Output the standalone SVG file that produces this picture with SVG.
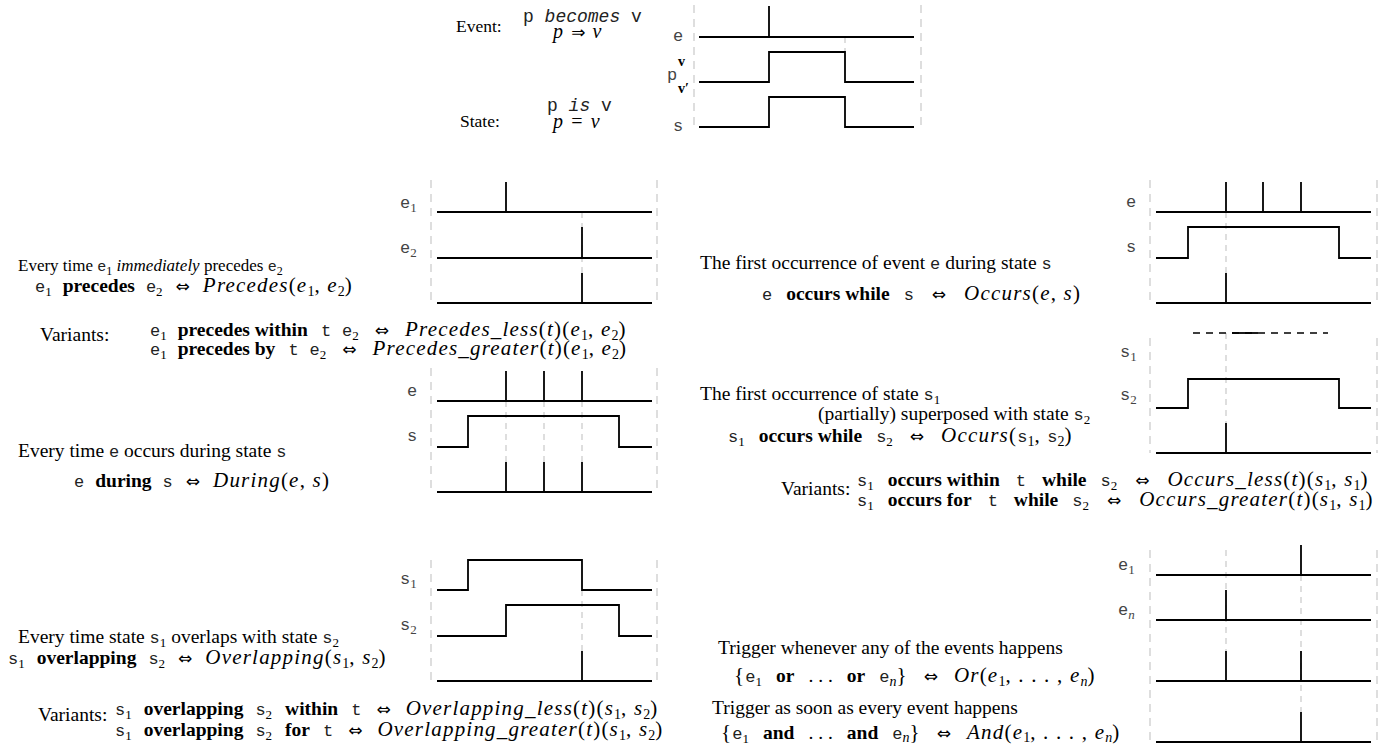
<svg xmlns="http://www.w3.org/2000/svg" width="1390" height="745" viewBox="0 0 1390 745">
<style>
.t{font-family:"Liberation Serif","Times New Roman",serif;font-size:19.5px;fill:#000}
.t17{font-family:"Liberation Serif","Times New Roman",serif;font-size:17.5px;fill:#000}
.tt{font-family:"Liberation Mono","Courier New",monospace;font-size:17px;fill:#222}
.b{font-weight:bold}
.i{font-style:italic}
.s{font-size:13px}
.m{font-family:"Liberation Serif","Times New Roman",serif;font-style:italic;font-size:21px;letter-spacing:1.2px}
.mu{font-family:"Liberation Serif","Times New Roman",serif;font-size:21px;letter-spacing:1.2px}
.ms{font-family:"Liberation Serif",serif;font-size:14px;font-style:normal}
.msi{font-family:"Liberation Serif",serif;font-size:14px;font-style:italic}
.ar{font-family:"DejaVu Sans",sans-serif;font-size:17px}
.lbl{font-family:"Liberation Mono","Courier New",monospace;font-size:17px;fill:#444}
.ls{font-family:"Liberation Serif",serif;font-size:13px}
.sig{fill:none;stroke:#000;stroke-width:1.8}
.bd{stroke:#c8c8c8;stroke-width:1.2;stroke-dasharray:8 6;fill:none}
.gd{stroke:#c8c8c8;stroke-width:1.2;stroke-dasharray:6 5;fill:none}
.bk{stroke:#000;stroke-width:1.3;stroke-dasharray:7 6;fill:none}
</style>
<rect width="1390" height="745" fill="#fff"/>
<g id="connectors"/>

<g id="definitions-text">
<text class="t17" x="456" y="32">Event:</text>
<text class="tt" style="font-size:18px" x="523" y="22">p <tspan class="i">becomes</tspan> v</text>
<text class="t" x="553" y="38"><tspan class="m" style="font-size:20px">p</tspan><tspan class="ar" dx="7">⇒</tspan><tspan class="m" style="font-size:20px" dx="7">v</tspan></text>
<text class="t17" x="460" y="127">State:</text>
<text class="tt" style="font-size:18px" x="547" y="111">p <tspan class="i">is</tspan> v</text>
<text class="t" x="553" y="128"><tspan class="m" style="font-size:20px">p</tspan><tspan class="mu" style="font-size:20px" dx="7">=</tspan><tspan class="m" style="font-size:20px" dx="7">v</tspan></text>
</g>
<g id="basic-panel">
<line class="bd" x1="694" y1="5" x2="694" y2="127"/>
<line class="bd" x1="921" y1="5" x2="921" y2="127"/>
<line class="gd" x1="845" y1="37" x2="845" y2="52"/>
<line class="sig" x1="699" y1="37" x2="914" y2="37"/>
<line class="sig" x1="769" y1="6" x2="769" y2="37"/>
<polyline class="sig" points="699,82 769,82 769,52 845,52 845,82 914,82"/>
<polyline class="sig" points="699,127 769,127 769,97 845,97 845,127 914,127"/>
<text class="lbl" x="673" y="41">e</text>
<text class="lbl" x="667" y="80">p</text>
<text class="t b" x="678" y="66" style="font-size:14px">v</text>
<text class="t b" x="678" y="93" style="font-size:14px">v′</text>
<text class="lbl" x="673" y="131">s</text>
</g>

<g id="precedes-text">
<text class="t" style="font-size:17px" x="18" y="271">Every time <tspan class="tt" style="font-size:15px">e</tspan><tspan class="s" style="font-size:12px" baseline-shift="-3.5">1</tspan> <tspan class="i">immediately</tspan> precedes <tspan class="tt" style="font-size:15px">e</tspan><tspan class="s" style="font-size:12px" baseline-shift="-3.5">2</tspan></text>
<text class="t" x="35" y="292"><tspan class="tt">e</tspan><tspan class="s" baseline-shift="-4">1</tspan><tspan class="b" dx="11">precedes</tspan><tspan class="tt" dx="11">e</tspan><tspan class="s" baseline-shift="-4">2</tspan><tspan class="ar" dx="13">⇔</tspan><tspan class="m" dx="13">Precedes</tspan><tspan class="mu">(</tspan><tspan class="m">e</tspan><tspan class="ms" baseline-shift="-4">1</tspan><tspan class="mu">, </tspan><tspan class="m">e</tspan><tspan class="ms" baseline-shift="-4">2</tspan><tspan class="mu">)</tspan></text>
<text class="t" x="40" y="341">Variants:</text>
<text class="t" x="150" y="336"><tspan class="tt">e</tspan><tspan class="s" baseline-shift="-4">1</tspan><tspan class="b" dx="11">precedes within</tspan><tspan class="tt" dx="13">t</tspan><tspan class="tt" dx="11">e</tspan><tspan class="s" baseline-shift="-4">2</tspan><tspan class="ar" dx="16">⇔</tspan><tspan class="m" dx="16">Precedes_less</tspan><tspan class="mu">(</tspan><tspan class="m">t</tspan><tspan class="mu">)(</tspan><tspan class="m">e</tspan><tspan class="ms" baseline-shift="-4">1</tspan><tspan class="mu">, </tspan><tspan class="m">e</tspan><tspan class="ms" baseline-shift="-4">2</tspan><tspan class="mu">)</tspan></text>
<text class="t" x="150" y="355"><tspan class="tt">e</tspan><tspan class="s" baseline-shift="-4">1</tspan><tspan class="b" dx="11">precedes by</tspan><tspan class="tt" dx="13">t</tspan><tspan class="tt" dx="11">e</tspan><tspan class="s" baseline-shift="-4">2</tspan><tspan class="ar" dx="16">⇔</tspan><tspan class="m" dx="16">Precedes_greater</tspan><tspan class="mu">(</tspan><tspan class="m">t</tspan><tspan class="mu">)(</tspan><tspan class="m">e</tspan><tspan class="ms" baseline-shift="-4">1</tspan><tspan class="mu">, </tspan><tspan class="m">e</tspan><tspan class="ms" baseline-shift="-4">2</tspan><tspan class="mu">)</tspan></text>
</g>
<g id="precedes-panel">
<line class="bd" x1="431" y1="180" x2="431" y2="303"/>
<line class="bd" x1="657" y1="180" x2="657" y2="303"/>
<line class="gd" x1="582" y1="212" x2="582" y2="273"/>
<line class="sig" x1="437" y1="212" x2="652" y2="212"/>
<line class="sig" x1="506" y1="182" x2="506" y2="212"/>
<line class="sig" x1="437" y1="258" x2="652" y2="258"/>
<line class="sig" x1="582" y1="227" x2="582" y2="258"/>
<line class="sig" x1="437" y1="303" x2="652" y2="303"/>
<line class="sig" x1="582" y1="273" x2="582" y2="303"/>
<text class="lbl" x="400" y="208">e<tspan class="ls" baseline-shift="-4">1</tspan></text>
<text class="lbl" x="400" y="253">e<tspan class="ls" baseline-shift="-4">2</tspan></text>
</g>

<g id="during-text">
<text class="t" x="18" y="457">Every time <tspan class="tt">e</tspan> occurs during state <tspan class="tt">s</tspan></text>
<text class="t" x="74" y="487"><tspan class="tt">e</tspan><tspan class="b" dx="11">during</tspan><tspan class="tt" dx="11">s</tspan><tspan class="ar" dx="13">⇔</tspan><tspan class="m" dx="13">During</tspan><tspan class="mu">(</tspan><tspan class="m">e</tspan><tspan class="mu">, </tspan><tspan class="m">s</tspan><tspan class="mu">)</tspan></text>
</g>
<g id="during-panel">
<line class="bd" x1="431" y1="368" x2="431" y2="492"/>
<line class="bd" x1="657" y1="368" x2="657" y2="492"/>
<line class="gd" x1="506" y1="401" x2="506" y2="462"/>
<line class="gd" x1="544" y1="401" x2="544" y2="462"/>
<line class="gd" x1="582" y1="401" x2="582" y2="462"/>
<line class="sig" x1="437" y1="401" x2="652" y2="401"/>
<line class="sig" x1="506" y1="371" x2="506" y2="401"/>
<line class="sig" x1="544" y1="371" x2="544" y2="401"/>
<line class="sig" x1="582" y1="371" x2="582" y2="401"/>
<polyline class="sig" points="437,447 468,447 468,416 619,416 619,447 652,447"/>
<line class="sig" x1="437" y1="492" x2="652" y2="492"/>
<line class="sig" x1="506" y1="462" x2="506" y2="492"/>
<line class="sig" x1="544" y1="462" x2="544" y2="492"/>
<line class="sig" x1="582" y1="462" x2="582" y2="492"/>
<text class="lbl" x="407" y="396">e</text>
<text class="lbl" x="407" y="441">s</text>
</g>

<g id="overlapping-text">
<text class="t" x="18" y="643">Every time state <tspan class="tt">s</tspan><tspan class="s" baseline-shift="-4">1</tspan> overlaps with state <tspan class="tt">s</tspan><tspan class="s" baseline-shift="-4">2</tspan></text>
<text class="t" x="8" y="664"><tspan class="tt">s</tspan><tspan class="s" baseline-shift="-4">1</tspan><tspan class="b" dx="12">overlapping</tspan><tspan class="tt" dx="12">s</tspan><tspan class="s" baseline-shift="-4">2</tspan><tspan class="ar" dx="13">⇔</tspan><tspan class="m" dx="13">Overlapping</tspan><tspan class="mu">(</tspan><tspan class="m">s</tspan><tspan class="ms" baseline-shift="-4">1</tspan><tspan class="mu">, </tspan><tspan class="m">s</tspan><tspan class="ms" baseline-shift="-4">2</tspan><tspan class="mu">)</tspan></text>
<text class="t" x="38" y="721">Variants:</text>
<text class="t" x="115" y="715"><tspan class="tt">s</tspan><tspan class="s" baseline-shift="-4">1</tspan><tspan class="b" dx="12">overlapping</tspan><tspan class="tt" dx="12">s</tspan><tspan class="s" baseline-shift="-4">2</tspan><tspan class="b" dx="13">within</tspan><tspan class="tt" dx="13">t</tspan><tspan class="ar" dx="15">⇔</tspan><tspan class="m" dx="15">Overlapping_less</tspan><tspan class="mu">(</tspan><tspan class="m">t</tspan><tspan class="mu">)(</tspan><tspan class="m">s</tspan><tspan class="ms" baseline-shift="-4">1</tspan><tspan class="mu">, </tspan><tspan class="m">s</tspan><tspan class="ms" baseline-shift="-4">2</tspan><tspan class="mu">)</tspan></text>
<text class="t" x="115" y="736"><tspan class="tt">s</tspan><tspan class="s" baseline-shift="-4">1</tspan><tspan class="b" dx="12">overlapping</tspan><tspan class="tt" dx="12">s</tspan><tspan class="s" baseline-shift="-4">2</tspan><tspan class="b" dx="13">for</tspan><tspan class="tt" dx="13">t</tspan><tspan class="ar" dx="15">⇔</tspan><tspan class="m" dx="15">Overlapping_greater</tspan><tspan class="mu">(</tspan><tspan class="m">t</tspan><tspan class="mu">)(</tspan><tspan class="m">s</tspan><tspan class="ms" baseline-shift="-4">1</tspan><tspan class="mu">, </tspan><tspan class="m">s</tspan><tspan class="ms" baseline-shift="-4">2</tspan><tspan class="mu">)</tspan></text>
</g>
<g id="overlapping-panel">
<line class="bd" x1="431" y1="560" x2="431" y2="683"/>
<line class="bd" x1="657" y1="560" x2="657" y2="683"/>
<line class="gd" x1="582" y1="590" x2="582" y2="651"/>
<polyline class="sig" points="437,590 468,590 468,560 582,560 582,590 652,590"/>
<polyline class="sig" points="437,636 506,636 506,605 619,605 619,636 652,636"/>
<line class="sig" x1="437" y1="681" x2="652" y2="681"/>
<line class="sig" x1="582" y1="651" x2="582" y2="681"/>
<text class="lbl" x="400" y="584">s<tspan class="ls" baseline-shift="-4">1</tspan></text>
<text class="lbl" x="400" y="630">s<tspan class="ls" baseline-shift="-4">2</tspan></text>
</g>

<g id="occurs-event-text">
<text class="t" x="700" y="269">The first occurrence of event <tspan class="tt">e</tspan> during state <tspan class="tt">s</tspan></text>
<text class="t" x="762" y="300"><tspan class="tt">e</tspan><tspan class="b" dx="14">occurs while</tspan><tspan class="tt" dx="14">s</tspan><tspan class="ar" dx="18">⇔</tspan><tspan class="m" dx="18">Occurs</tspan><tspan class="mu">(</tspan><tspan class="m">e</tspan><tspan class="mu">, </tspan><tspan class="m">s</tspan><tspan class="mu">)</tspan></text>
</g>
<g id="occurs-event-panel">
<line class="bd" x1="1150" y1="180" x2="1150" y2="303"/>
<line class="bd" x1="1377" y1="180" x2="1377" y2="303"/>
<line class="gd" x1="1226" y1="212" x2="1226" y2="273"/>
<line class="sig" x1="1156" y1="212" x2="1371" y2="212"/>
<line class="sig" x1="1226" y1="182" x2="1226" y2="212"/>
<line class="sig" x1="1263" y1="182" x2="1263" y2="212"/>
<line class="sig" x1="1301" y1="182" x2="1301" y2="212"/>
<polyline class="sig" points="1156,258 1188,258 1188,227 1339,227 1339,258 1371,258"/>
<line class="sig" x1="1156" y1="303" x2="1371" y2="303"/>
<line class="sig" x1="1226" y1="273" x2="1226" y2="303"/>
<text class="lbl" x="1126" y="207">e</text>
<text class="lbl" x="1126" y="252">s</text>
</g>

<g id="occurs-state-text">
<text class="t" x="700" y="400">The first occurrence of state <tspan class="tt">s</tspan><tspan class="s" baseline-shift="-4">1</tspan></text>
<text class="t" x="818" y="420">(partially) superposed with state <tspan class="tt">s</tspan><tspan class="s" baseline-shift="-4">2</tspan></text>
<text class="t" x="728" y="442"><tspan class="tt">s</tspan><tspan class="s" baseline-shift="-4">1</tspan><tspan class="b" dx="14">occurs while</tspan><tspan class="tt" dx="14">s</tspan><tspan class="s" baseline-shift="-4">2</tspan><tspan class="ar" dx="17">⇔</tspan><tspan class="m" dx="17">Occurs</tspan><tspan class="mu">(</tspan><tspan class="tt">s</tspan><tspan class="ms" baseline-shift="-4">1</tspan><tspan class="mu">, </tspan><tspan class="tt">s</tspan><tspan class="ms" baseline-shift="-4">2</tspan><tspan class="mu">)</tspan></text>
<text class="t" x="781" y="495">Variants:</text>
<text class="t" x="857" y="486"><tspan class="tt">s</tspan><tspan class="s" baseline-shift="-4">1</tspan><tspan class="b" dx="14">occurs within</tspan><tspan class="tt" dx="16">t</tspan><tspan class="b" dx="16">while</tspan><tspan class="tt" dx="14">s</tspan><tspan class="s" baseline-shift="-4">2</tspan><tspan class="ar" dx="18">⇔</tspan><tspan class="m" dx="18">Occurs_less</tspan><tspan class="mu">(</tspan><tspan class="m">t</tspan><tspan class="mu">)(</tspan><tspan class="m">s</tspan><tspan class="ms" baseline-shift="-4">1</tspan><tspan class="mu">, </tspan><tspan class="m">s</tspan><tspan class="ms" baseline-shift="-4">1</tspan><tspan class="mu">)</tspan></text>
<text class="t" x="857" y="506"><tspan class="tt">s</tspan><tspan class="s" baseline-shift="-4">1</tspan><tspan class="b" dx="14">occurs for</tspan><tspan class="tt" dx="16">t</tspan><tspan class="b" dx="16">while</tspan><tspan class="tt" dx="14">s</tspan><tspan class="s" baseline-shift="-4">2</tspan><tspan class="ar" dx="18">⇔</tspan><tspan class="m" dx="18">Occurs_greater</tspan><tspan class="mu">(</tspan><tspan class="m">t</tspan><tspan class="mu">)(</tspan><tspan class="m">s</tspan><tspan class="ms" baseline-shift="-4">1</tspan><tspan class="mu">, </tspan><tspan class="m">s</tspan><tspan class="ms" baseline-shift="-4">1</tspan><tspan class="mu">)</tspan></text>
</g>
<g id="occurs-state-panel">
<line class="bd" x1="1150" y1="338" x2="1150" y2="453"/>
<line class="bd" x1="1377" y1="338" x2="1377" y2="453"/>
<line class="gd" x1="1226" y1="333" x2="1226" y2="423"/>
<line class="bk" x1="1193" y1="333" x2="1328" y2="333"/>
<line class="sig" x1="1232" y1="333" x2="1258" y2="333"/>
<polyline class="sig" points="1156,408 1188,408 1188,379 1339,379 1339,408 1371,408"/>
<line class="sig" x1="1156" y1="453" x2="1371" y2="453"/>
<line class="sig" x1="1226" y1="423" x2="1226" y2="453"/>
<text class="lbl" x="1120" y="357">s<tspan class="ls" baseline-shift="-4">1</tspan></text>
<text class="lbl" x="1120" y="400">s<tspan class="ls" baseline-shift="-4">2</tspan></text>
</g>

<g id="or-and-text">
<text class="t" x="718" y="654">Trigger whenever any of the events happens</text>
<text class="t" x="734" y="682"><tspan class="mu">{</tspan><tspan class="tt">e</tspan><tspan class="s" baseline-shift="-4">1</tspan><tspan class="b" dx="14">or</tspan><tspan dx="14">. . .</tspan><tspan class="b" dx="14">or</tspan><tspan class="tt" dx="14">e</tspan><tspan class="msi" baseline-shift="-4">n</tspan><tspan class="mu">}</tspan><tspan class="ar" dx="16">⇔</tspan><tspan class="m" dx="16">Or</tspan><tspan class="mu">(</tspan><tspan class="m">e</tspan><tspan class="ms" baseline-shift="-4">1</tspan><tspan class="mu">, . . . , </tspan><tspan class="m">e</tspan><tspan class="msi" baseline-shift="-4">n</tspan><tspan class="mu">)</tspan></text>
<text class="t" x="712" y="714">Trigger as soon as every event happens</text>
<text class="t" x="721" y="739"><tspan class="mu">{</tspan><tspan class="tt">e</tspan><tspan class="s" baseline-shift="-4">1</tspan><tspan class="b" dx="14">and</tspan><tspan dx="14">. . .</tspan><tspan class="b" dx="14">and</tspan><tspan class="tt" dx="14">e</tspan><tspan class="msi" baseline-shift="-3">n</tspan><tspan class="mu">}</tspan><tspan class="ar" dx="16">⇔</tspan><tspan class="m" dx="16">And</tspan><tspan class="mu">(</tspan><tspan class="m">e</tspan><tspan class="ms" baseline-shift="-3">1</tspan><tspan class="mu">, . . . , </tspan><tspan class="m">e</tspan><tspan class="msi" baseline-shift="-3">n</tspan><tspan class="mu">)</tspan></text>
</g>
<g id="or-and-panel">
<line class="bd" x1="1150" y1="550" x2="1150" y2="742"/>
<line class="bd" x1="1377" y1="550" x2="1377" y2="742"/>
<line class="gd" x1="1226" y1="550" x2="1226" y2="651"/>
<line class="gd" x1="1301" y1="575" x2="1301" y2="712"/>
<line class="sig" x1="1156" y1="575" x2="1371" y2="575"/>
<line class="sig" x1="1301" y1="545" x2="1301" y2="575"/>
<line class="sig" x1="1156" y1="620" x2="1371" y2="620"/>
<line class="sig" x1="1226" y1="590" x2="1226" y2="620"/>
<line class="sig" x1="1156" y1="681" x2="1371" y2="681"/>
<line class="sig" x1="1226" y1="651" x2="1226" y2="681"/>
<line class="sig" x1="1301" y1="651" x2="1301" y2="681"/>
<line class="sig" x1="1156" y1="742" x2="1371" y2="742"/>
<line class="sig" x1="1301" y1="712" x2="1301" y2="742"/>
<text class="lbl" x="1118" y="570">e<tspan class="ls" baseline-shift="-4">1</tspan></text>
<text class="lbl" x="1118" y="615">e<tspan class="ls i" baseline-shift="-4">n</tspan></text>
</g>
</svg>
